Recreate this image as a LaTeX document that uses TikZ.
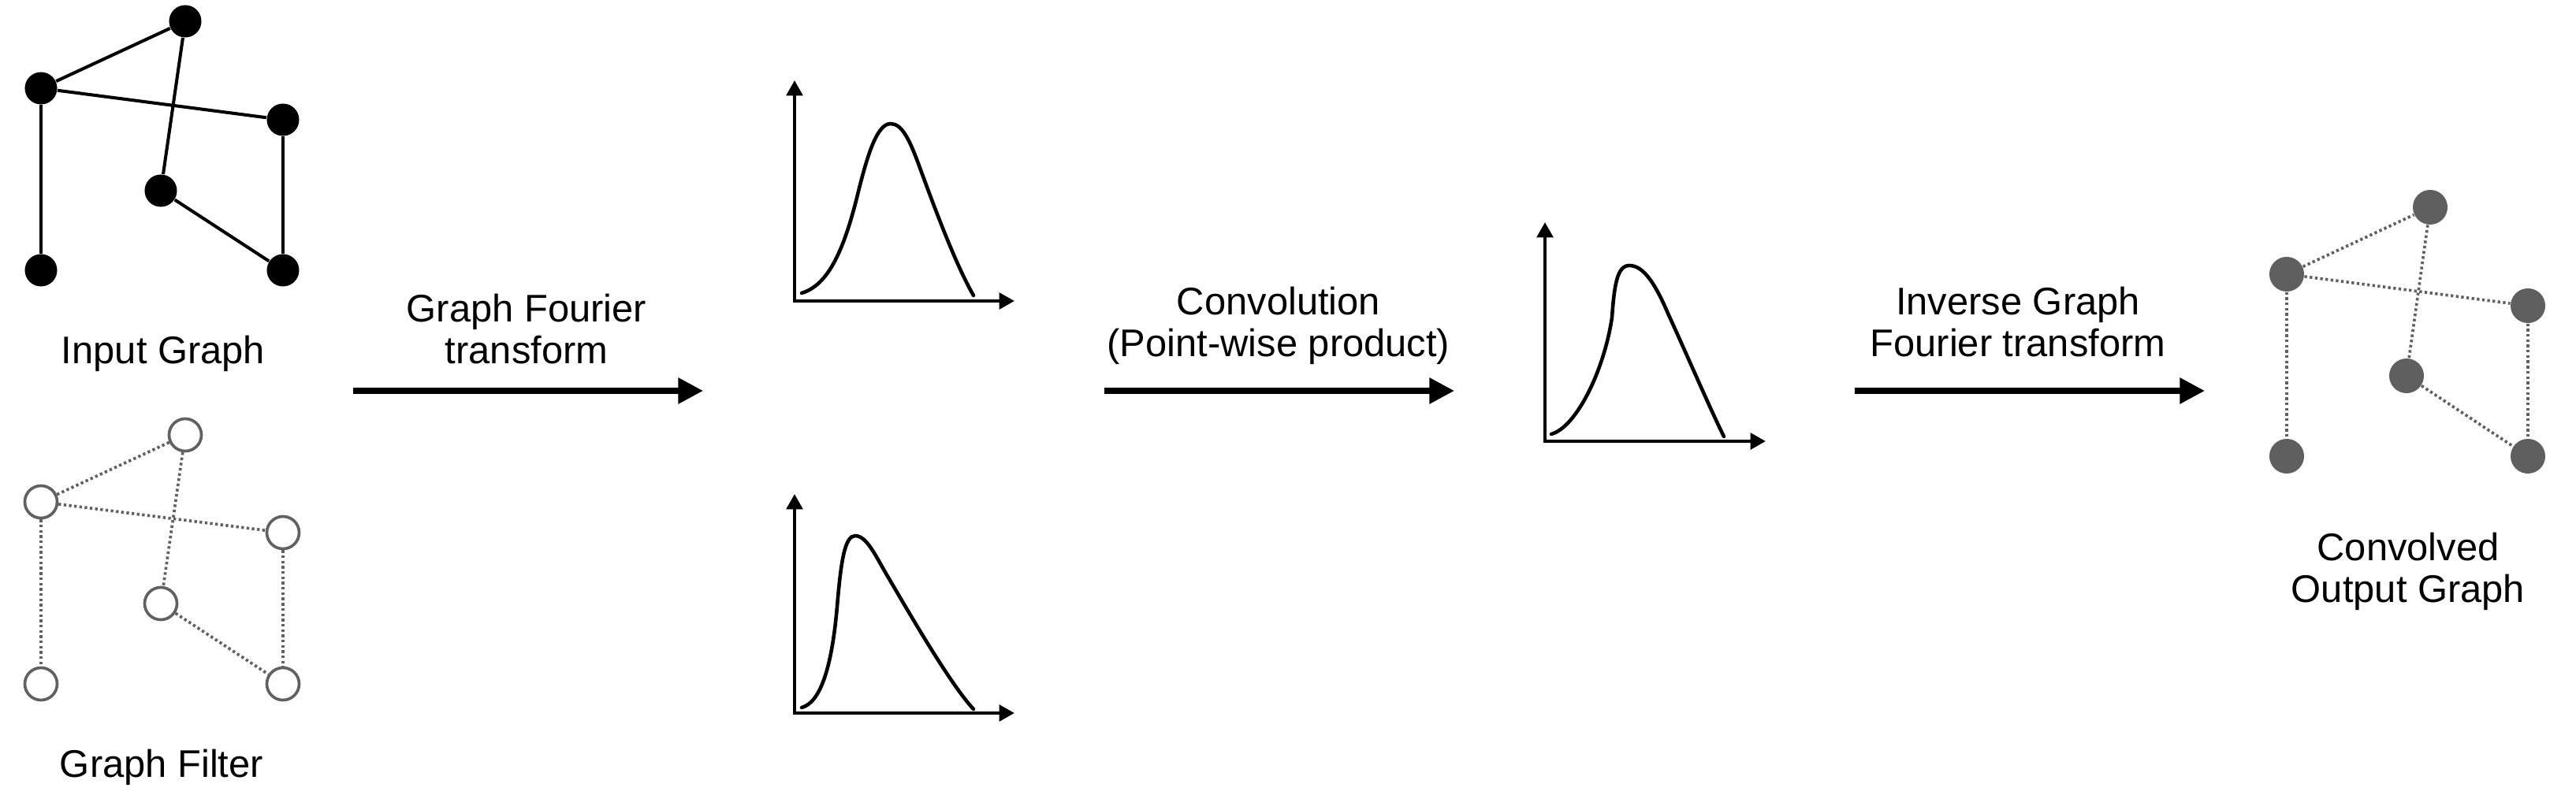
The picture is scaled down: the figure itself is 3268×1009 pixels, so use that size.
\documentclass[tikz,border=0pt]{standalone}
\usepackage{fontspec}
\setmainfont{Liberation Sans}
\usetikzlibrary{arrows.meta}
\definecolor{fgray}{HTML}{616161}
\definecolor{ogray}{HTML}{5F5F5F}
\begin{document}
\begin{tikzpicture}[x=0.01cm,y=-0.01cm,
  innode/.style={circle,fill=black,inner sep=0pt,minimum size=0.41cm},
  filtnode/.style={circle,draw=fgray,line width=1.05pt,fill=white,inner sep=0pt,minimum size=0.41cm},
  outnode/.style={circle,fill=ogray,inner sep=0pt,minimum size=0.44cm},
  solidedge/.style={line width=1.15pt,black},
  dotedge/.style={line width=1.05pt,fgray,dash pattern=on 0.95pt off 0.95pt},
  bigarrow/.style={line width=2pt,-{Triangle[length=9pt,width=9pt]}},
  axes/.style={line width=1.25pt,{Triangle[length=5.5pt,width=5.8pt]}-{Triangle[length=5.5pt,width=5.8pt]},line join=miter},
  curve/.style={line width=1.3pt,line cap=round},
  lbl/.style={font=\fontsize{13.9}{15.1}\selectfont,align=center,inner sep=0pt,anchor=north}
]
\useasboundingbox (0,0) rectangle (3268,1009);

% ---------- Input graph ----------
\node[innode] (a1) at (235,27) {};
\node[innode] (a2) at (52,112) {};
\node[innode] (a3) at (359,152) {};
\node[innode] (a4) at (204,242) {};
\node[innode] (a5) at (52,343) {};
\node[innode] (a6) at (359,343) {};
\draw[solidedge] (a2) -- (a1);
\draw[solidedge] (a1) -- (a4);
\draw[solidedge] (a2) -- (a3);
\draw[solidedge] (a2) -- (a5);
\draw[solidedge] (a4) -- (a6);
\draw[solidedge] (a3) -- (a6);
\node[lbl] (inlbl) at (207,425) {Input Graph};

% ---------- Graph filter ----------
\node[filtnode] (b1) at (235,552) {};
\node[filtnode] (b2) at (52,637) {};
\node[filtnode] (b3) at (359,676) {};
\node[filtnode] (b4) at (204,766) {};
\node[filtnode] (b5) at (52,868) {};
\node[filtnode] (b6) at (359,868) {};
\draw[dotedge] (b2) -- (b1);
\draw[dotedge] (b1) -- (b4);
\draw[dotedge] (b2) -- (b3);
\draw[dotedge] (b2) -- (b5);
\draw[dotedge] (b4) -- (b6);
\draw[dotedge] (b3) -- (b6);
\node[lbl] (filtlbl) at (205,950) {Graph Filter};

% ---------- Arrow 1 ----------
\coordinate (r1s) at (448,496);
\coordinate (r1e) at (892,496);
\draw[bigarrow] (r1s) -- (r1e);
\node[lbl] (r1lbl) at (668,372) {Graph Fourier\\transform};

% ---------- Spectrum 1 ----------
\coordinate (p1o) at (1008,382);
\coordinate (p1y) at (1008,102);
\coordinate (p1x) at (1287,382);
\draw[axes] (p1y) -- (p1o) -- (p1x);
\draw[curve] (1017,372) .. controls (1050,362) and (1070,320) .. (1088,247)
  .. controls (1101,194) and (1113,157) .. (1130,157)
  .. controls (1145,157) and (1155,180) .. (1167,213)
  .. controls (1185,262) and (1212,335) .. (1235,375);

% ---------- Spectrum 2 ----------
\coordinate (p2o) at (1008,905);
\coordinate (p2y) at (1008,627);
\coordinate (p2x) at (1287,905);
\draw[axes] (p2y) -- (p2o) -- (p2x);
\draw[curve] (1017,898) .. controls (1040,892) and (1055,850) .. (1062,770)
  .. controls (1067,710) and (1072,680) .. (1085,680)
  .. controls (1100,680) and (1112,708) .. (1127,733)
  .. controls (1150,772) and (1205,868) .. (1235,900);

% ---------- Arrow 2 ----------
\coordinate (r2s) at (1401,496);
\coordinate (r2e) at (1845,496);
\draw[bigarrow] (r2s) -- (r2e);
\node[lbl] (r2lbl) at (1622,363) {Convolution\\(Point-wise product)};

% ---------- Spectrum 3 ----------
\coordinate (p3o) at (1960,560);
\coordinate (p3y) at (1960,282);
\coordinate (p3x) at (2240,560);
\draw[axes] (p3y) -- (p3o) -- (p3x);
\draw[curve] (1968,551) .. controls (2000,542) and (2035,470) .. (2045,403)
  .. controls (2048,360) and (2052,337) .. (2067,337)
  .. controls (2085,337) and (2100,360) .. (2117,400)
  .. controls (2140,450) and (2170,520) .. (2187,554);

% ---------- Arrow 3 ----------
\coordinate (r3s) at (2353,496);
\coordinate (r3e) at (2797,496);
\draw[bigarrow] (r3s) -- (r3e);
\node[lbl] (r3lbl) at (2560,363) {Inverse Graph\\Fourier transform};

% ---------- Output graph ----------
\node[outnode] (c1) at (3083,263) {};
\node[outnode] (c2) at (2901,348) {};
\node[outnode] (c3) at (3207,388) {};
\node[outnode] (c4) at (3053,477) {};
\node[outnode] (c5) at (2901,579) {};
\node[outnode] (c6) at (3207,579) {};
\draw[dotedge] (c2) -- (c1);
\draw[dotedge] (c1) -- (c4);
\draw[dotedge] (c2) -- (c3);
\draw[dotedge] (c2) -- (c5);
\draw[dotedge] (c4) -- (c6);
\draw[dotedge] (c3) -- (c6);
\node[lbl] (outlbl) at (3055,675) {Convolved\\Output Graph};
\end{tikzpicture}
\end{document}
